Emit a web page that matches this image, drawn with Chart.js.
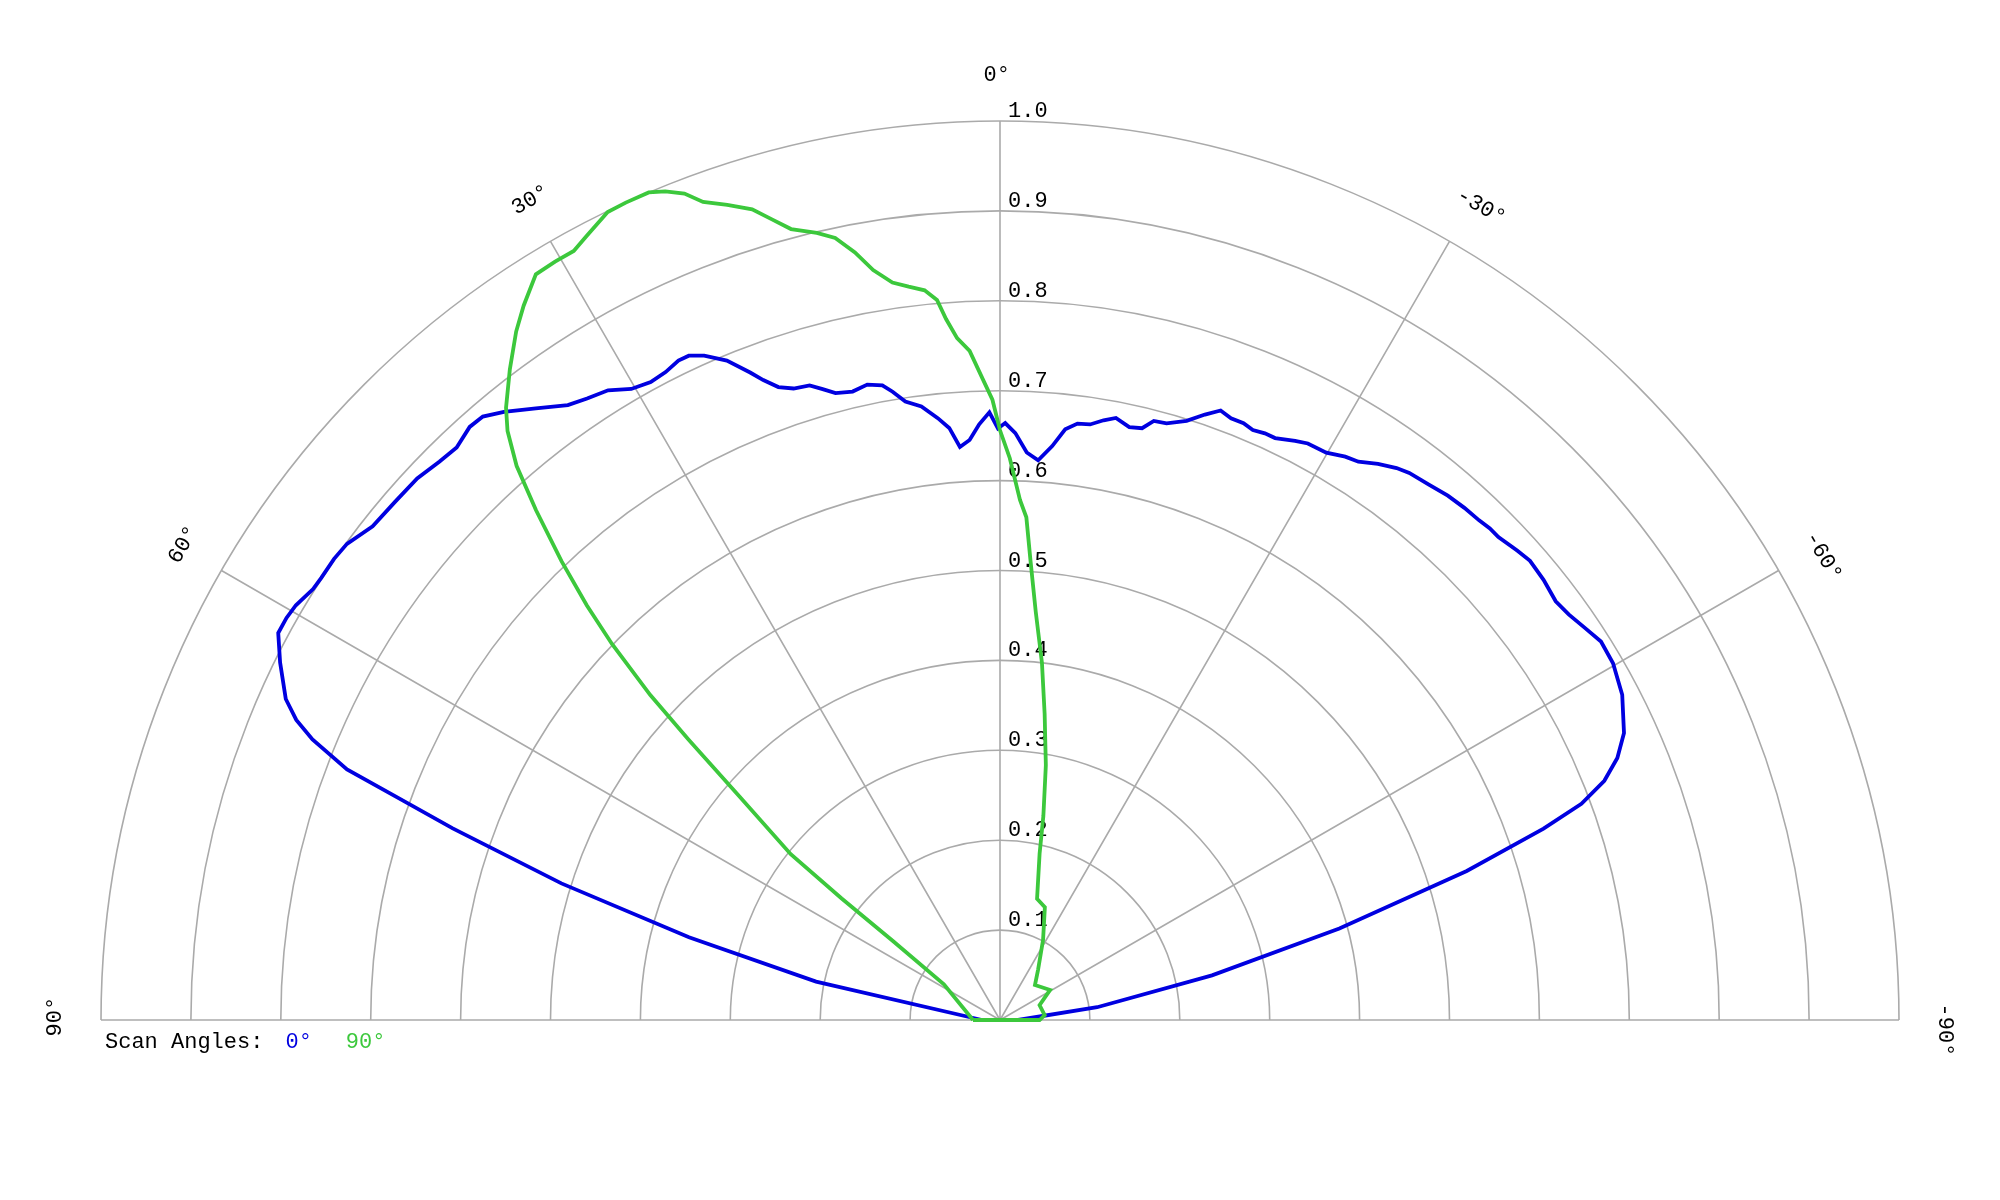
<!DOCTYPE html>
<html>
<head>
<meta charset="utf-8">
<title>Scan pattern</title>
<script src="https://cdn.jsdelivr.net/npm/chart.js@4.4.1/dist/chart.umd.min.js"></script>
<style>
  html, body { margin: 0; padding: 0; background: #fff; }
  #wrap { width: 2000px; height: 1200px; }
</style>
</head>
<body>
<div id="wrap"><canvas id="polar" width="2000" height="1200"></canvas></div>
<script>
// angles in degrees (0 = up, positive to the left), gain normalised to 1
const scan0Angles = [90, 78.2, 75.1, 72.7, 70.7, 69.7, 69.0, 67.8, 66.9, 65.8, 63.6, 61.8, 60.6, 59.5, 57.9, 56.9, 55.3, 53.9, 51.8, 49.4,
  47.1, 45.1, 43.5, 41.8, 40.6, 39.2, 37.2, 35.1, 33.6, 31.9, 30.3, 28.7, 27.3, 26.0, 25.1, 24.0, 22.5, 21.1, 20.3, 19.3,
  18.1, 16.7, 15.7, 14.7, 13.2, 11.8, 10.5, 9.7, 8.7, 7.3, 5.9, 4.9, 4.0, 3.0, 2.0, 1.0, 0.2, -0.5, -1.5, -2.7,
  -3.9, -5.2, -6.3, -7.4, -8.6, -9.8, -10.9, -12.3, -13.5, -14.4, -15.6, -17.3, -18.7, -19.9, -21.0, -22.2, -23.2, -24.3, -25.3, -27.0,
  -28.1, -29.9, -31.5, -32.7, -34.2, -35.7, -36.8, -38.7, -40.5, -42.2, -43.8, -44.9, -45.9, -47.8, -49.1, -51.0, -53.0, -54.5, -56.1, -57.8,
  -59.8, -62.4, -65.3, -67.0, -68.4, -69.6, -70.6, -72.3, -74.9, -78.1, -82.5, -90];
const scan0Gain = [0.02, 0.209, 0.358, 0.511, 0.645, 0.717, 0.778, 0.826, 0.851, 0.871, 0.894, 0.911, 0.911, 0.909, 0.902, 0.901, 0.901, 0.899, 0.888, 0.886,
  0.885, 0.880, 0.878, 0.885, 0.884, 0.873, 0.854, 0.836, 0.830, 0.825, 0.813, 0.809, 0.811, 0.816, 0.816, 0.809, 0.794, 0.772, 0.759, 0.746,
  0.739, 0.737, 0.729, 0.721, 0.718, 0.722, 0.718, 0.709, 0.696, 0.688, 0.673, 0.661, 0.639, 0.646, 0.663, 0.676, 0.658, 0.664, 0.653, 0.632,
  0.624, 0.641, 0.661, 0.669, 0.670, 0.677, 0.682, 0.675, 0.677, 0.688, 0.689, 0.698, 0.711, 0.721, 0.717, 0.717, 0.714, 0.716, 0.716, 0.723,
  0.727, 0.728, 0.735, 0.738, 0.748, 0.756, 0.760, 0.763, 0.767, 0.769, 0.770, 0.772, 0.772, 0.777, 0.780, 0.778, 0.774, 0.777, 0.783, 0.790,
  0.789, 0.781, 0.764, 0.746, 0.723, 0.690, 0.641, 0.545, 0.391, 0.241, 0.109, 0.02];

// the 90° scan trace is closed back along the baseline (last point = first point)
const scan90Angles = [90, 57.5, 53.6, 52.5, 51.6, 49.4, 48.0, 47.1, 45.9, 44.9, 43.7, 42.3, 41.1, 39.9, 38.9, 37.0, 35.1, 33.7, 31.9, 30.4,
  29.0, 27.8, 25.9, 24.6, 23.0, 22.0, 20.9, 19.95, 18.5, 17.0, 15.9, 14.8, 13.1, 11.9, 10.7, 9.6, 8.3, 7.1, 5.9, 5.0,
  4.4, 3.6, 2.6, 1.5, 0.7, 0, -1.0, -2.2, -3.0, -3.8, -5.0, -6.7, -8.3, -10.2, -12.0, -13.4, -17.0, -21.7, -28.3, -37.2,
  -45.0, -59.0, -69.4, -83.7, -90, 90];
const scan90Gain = [0.03, 0.074, 0.148, 0.222, 0.297, 0.381, 0.466, 0.531, 0.601, 0.651, 0.706, 0.767, 0.818, 0.854, 0.875, 0.906, 0.936, 0.955, 0.977, 0.978,
  0.978, 0.986, 0.999, 1.0, 1.0, 0.994, 0.984, 0.968, 0.956, 0.943, 0.926, 0.910, 0.899, 0.889, 0.869, 0.846, 0.829, 0.822, 0.816, 0.804,
  0.782, 0.760, 0.745, 0.712, 0.690, 0.656, 0.625, 0.579, 0.56, 0.512, 0.456, 0.400, 0.344, 0.288, 0.232, 0.190, 0.141, 0.135, 0.101, 0.070,
  0.055, 0.065, 0.047, 0.050, 0.044, 0.03];

const ringTicks = [0.1, 0.2, 0.3, 0.4, 0.5, 0.6, 0.7, 0.8, 0.9, 1.0];
const spokeAngles = [90, 60, 30, 0, -30, -60, -90];
const seriesNames = ['0°', '90°'];
const legendGaps = [22, 34];

const FONT = '22px "Liberation Mono", "DejaVu Sans Mono", monospace';
const GRID = '#aaaaaa';

function toXY(angles, gains) {
  return angles.map(function (a, i) {
    const t = a * Math.PI / 180;
    return { x: -gains[i] * Math.sin(t), y: gains[i] * Math.cos(t) };
  });
}

const polarGrid = {
  id: 'polarGrid',
  beforeDatasetsDraw(chart) {
    const ctx = chart.ctx, xs = chart.scales.x, ys = chart.scales.y;
    const cx = xs.getPixelForValue(0), cy = ys.getPixelForValue(0);
    const R = xs.getPixelForValue(1) - cx;
    const at = function (r, a) {
      const t = a * Math.PI / 180;
      return [xs.getPixelForValue(-r * Math.sin(t)), ys.getPixelForValue(r * Math.cos(t))];
    };
    ctx.save();
    ctx.strokeStyle = GRID;
    ctx.lineWidth = 1.6;
    ringTicks.forEach(function (t) {
      ctx.beginPath();
      ctx.arc(cx, cy, R * t, Math.PI, 2 * Math.PI);
      ctx.stroke();
    });
    ctx.beginPath();
    ctx.moveTo(cx - R, cy); ctx.lineTo(cx + R, cy);
    spokeAngles.forEach(function (a) {
      const p = at(1, a);
      ctx.moveTo(cx, cy); ctx.lineTo(p[0], p[1]);
    });
    ctx.stroke();

    ctx.fillStyle = '#000';
    ctx.font = FONT;
    ctx.textAlign = 'left';
    ctx.textBaseline = 'alphabetic';
    ringTicks.forEach(function (t) {
      ctx.fillText(t.toFixed(1), cx + 8, cy - R * t - 4);
    });

    // angle labels: left aligned a bit before the spoke direction, rotated with it
    const adv = ctx.measureText('0').width;
    ctx.textBaseline = 'middle';
    spokeAngles.forEach(function (a) {
      const p = at(1.051, a);
      ctx.save();
      ctx.translate(p[0], p[1]);
      ctx.rotate(-a * Math.PI / 180);
      ctx.fillText(a + '°', -1.25 * adv, 0);
      ctx.restore();
    });

    // legend line
    ctx.textBaseline = 'alphabetic';
    let lx = cx - R + 4;
    const ly = cy + 28;
    ctx.fillText('Scan Angles:', lx, ly);
    lx += ctx.measureText('Scan Angles:').width + legendGaps[0];
    chart.data.datasets.forEach(function (ds, i) {
      ctx.fillStyle = ds.borderColor;
      ctx.fillText(ds.label, lx, ly);
      lx += ctx.measureText(ds.label).width + legendGaps[1];
    });
    ctx.restore();
  }
};

new Chart(document.getElementById('polar'), {
  type: 'scatter',
  data: {
    datasets: [
      { label: seriesNames[0], data: toXY(scan0Angles, scan0Gain), borderColor: '#0000e0', order: 2 },
      { label: seriesNames[1], data: toXY(scan90Angles, scan90Gain), borderColor: '#3cc83c', order: 1 }
    ]
  },
  options: {
    responsive: false,
    animation: false,
    devicePixelRatio: 1,
    layout: { padding: { left: 101, right: 101, top: 121, bottom: 180 } },
    datasets: {
      scatter: { showLine: true, borderWidth: 3.8, pointRadius: 0, tension: 0, clip: false, fill: false }
    },
    scales: {
      x: { type: 'linear', min: -1, max: 1, display: false },
      y: { type: 'linear', min: 0, max: 1, display: false }
    },
    plugins: { legend: { display: false }, tooltip: { enabled: false } }
  },
  plugins: [polarGrid]
});
</script>
</body>
</html>
